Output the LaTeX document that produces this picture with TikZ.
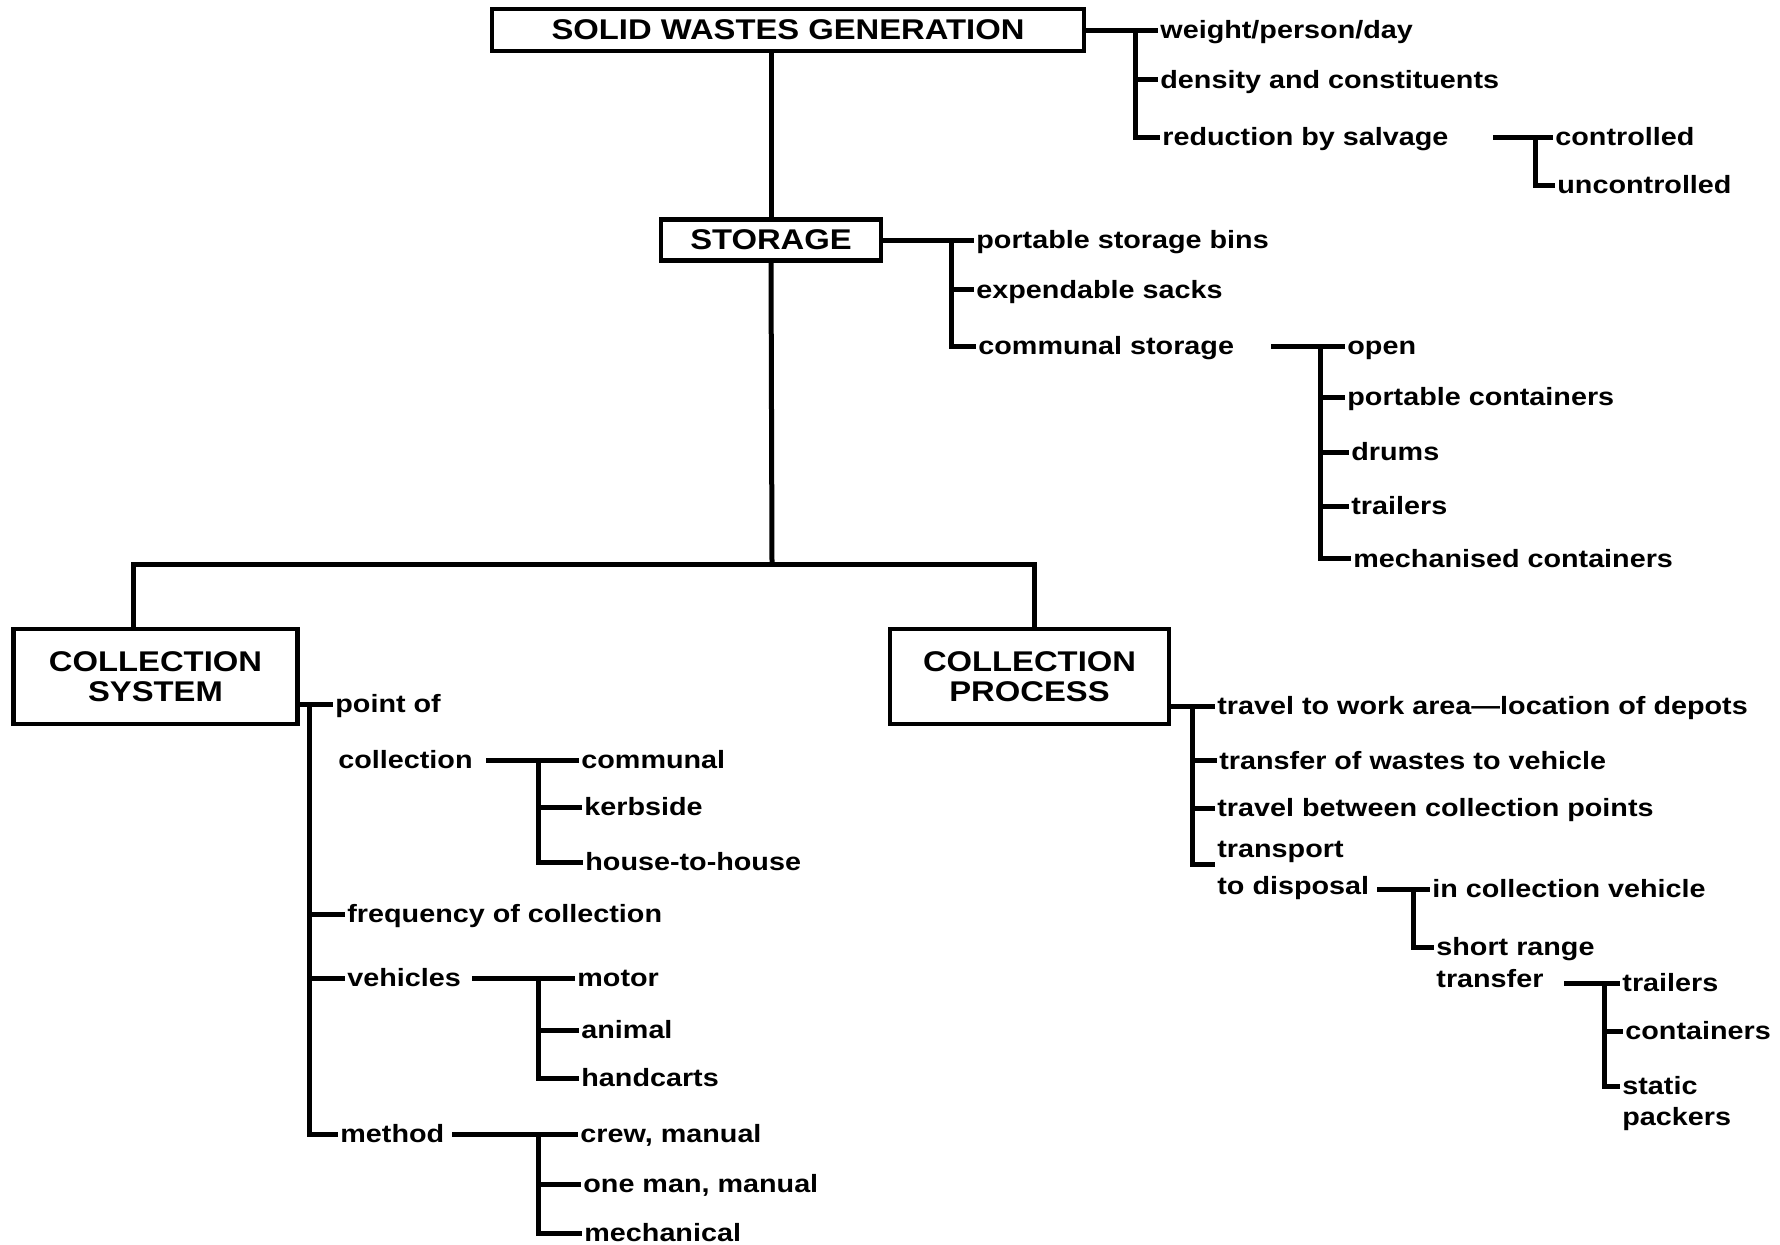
\documentclass[tikz,border=0pt]{standalone}
\usepackage{fontspec}
\setmainfont{Liberation Sans}[FakeStretch=1.15]
\begin{document}
\begin{tikzpicture}[x=0.5pt,y=-0.5pt,
  lab/.style={font=\bfseries\fontsize{12.5}{14}\selectfont, anchor=west, inner sep=1pt, text height=10.8pt, text depth=2pt},
  hdr/.style={draw, line width=2.3pt, font=\bfseries\fontsize{14.25}{15}\selectfont, align=center, inner sep=0pt},
  conn/.style={line width=2.5pt, line cap=butt}]
\useasboundingbox (0,0) rectangle (1780,1244);
% boxes
\node[hdr, minimum width=296pt, minimum height=21pt] (gen) at (788,30) {SOLID WASTES GENERATION};
\node[hdr, minimum width=110pt, minimum height=20.5pt] (stor) at (771,240) {STORAGE};
\node[hdr, minimum width=142pt, minimum height=47.5pt] (csys) at (155.5,676.5) {COLLECTION\\SYSTEM};
\node[hdr, minimum width=139.5pt, minimum height=47.5pt] (cproc) at (1029.5,676.5) {COLLECTION\\PROCESS};
% trunk
\coordinate (barL) at (133,564);
\coordinate (barR) at (1034,564);
\coordinate (jn) at (772,564);
\draw[conn] (stor.north |- gen.south) -- (stor.north);
\draw[conn] (stor.south) -- (jn);
\draw[conn] (csys.north -| barL) -- (barL) -- (barR) -- (barR |- cproc.north);
% generation branch
\node[lab] (g1) at (1158,30) {weight/person/day};
\node[lab] (g2) at (1158,79.5) {density and constituents};
\node[lab] (g3) at (1160,137) {reduction by salvage};
\node[lab] (g4) at (1553,137) {controlled};
\node[lab] (g5) at (1555,185) {uncontrolled};
\coordinate (gsp) at (1135,30);
\draw[conn] (gen.east) -- (gsp) -- (g1.west);
\draw[conn] (gsp) -- (gsp |- g3.west) -- (g3.west);
\draw[conn] (gsp |- g2.west) -- (g2.west);
\coordinate (g3d) at (1493,137);
\coordinate (gsp2) at (1535,137);
\draw[conn] (g3d) -- (gsp2) -- (g4.west);
\draw[conn] (gsp2) -- (gsp2 |- g5.west) -- (g5.west);
% storage branch
\node[lab] (s1) at (974,240) {portable storage bins};
\node[lab] (s2) at (974,289.5) {expendable sacks};
\node[lab] (s3) at (976,346) {communal storage};
\node[lab] (s4) at (1345,346) {open};
\node[lab] (s5) at (1345,397) {portable containers};
\node[lab] (s6) at (1349,452) {drums};
\node[lab] (s7) at (1349,506) {trailers};
\node[lab] (s8) at (1351,558.5) {mechanised containers};
\coordinate (ssp) at (951,240);
\draw[conn] (stor.east) -- (ssp) -- (s1.west);
\draw[conn] (ssp) -- (ssp |- s3.west) -- (s3.west);
\draw[conn] (ssp |- s2.west) -- (s2.west);
\coordinate (s3d) at (1271,346);
\coordinate (ssp2) at (1320,346);
\draw[conn] (s3d) -- (ssp2) -- (s4.west);
\draw[conn] (ssp2) -- (ssp2 |- s8.west) -- (s8.west);
\foreach \n in {s5,s6,s7} \draw[conn] (ssp2 |- \n.west) -- (\n.west);
% collection system branch
\node[lab] (c1) at (333,704) {point of};
\node[lab] (c2) at (336,760) {collection};
\node[lab] (c3) at (345,914) {frequency of collection};
\node[lab] (c4) at (345,978) {vehicles};
\node[lab] (c5) at (338,1134) {method};
\coordinate (csp) at (309,704);
\draw[conn] (csys.east |- csp) -- (csp) -- (c1.west);
\draw[conn] (csp) -- (csp |- c5.west) -- (c5.west);
\foreach \n in {c3,c4} \draw[conn] (csp |- \n.west) -- (\n.west);
\node[lab] (c6) at (579,760) {communal};
\node[lab] (c7) at (582,807) {kerbside};
\node[lab] (c8) at (583,862) {house-to-house};
\coordinate (c2d) at (486,760);
\coordinate (csp2) at (538,760);
\draw[conn] (c2d) -- (csp2) -- (c6.west);
\draw[conn] (csp2) -- (csp2 |- c8.west) -- (c8.west);
\draw[conn] (csp2 |- c7.west) -- (c7.west);
\node[lab] (c9) at (575,978) {motor};
\node[lab] (c10) at (579,1030) {animal};
\node[lab] (c11) at (579,1078) {handcarts};
\coordinate (c4d) at (472,978);
\coordinate (csp3) at (538,978);
\draw[conn] (c4d) -- (csp3) -- (c9.west);
\draw[conn] (csp3) -- (csp3 |- c11.west) -- (c11.west);
\draw[conn] (csp3 |- c10.west) -- (c10.west);
\node[lab] (c12) at (578,1134) {crew, manual};
\node[lab] (c13) at (581,1184) {one man, manual};
\node[lab] (c14) at (582,1233) {mechanical};
\coordinate (c5d) at (452,1134);
\coordinate (csp4) at (538,1134);
\draw[conn] (c5d) -- (csp4) -- (c12.west);
\draw[conn] (csp4) -- (csp4 |- c14.west) -- (c14.west);
\draw[conn] (csp4 |- c13.west) -- (c13.west);
% collection process branch
\node[lab] (p1) at (1215,706) {travel to work area—location of depots};
\node[lab] (p2) at (1217,760.5) {transfer of wastes to vehicle};
\node[lab] (p3) at (1215,808) {travel between collection points};
\node[lab] (p4) at (1215,849) {transport};
\node[lab] (p5) at (1215,886) {to disposal};
\coordinate (psp) at (1192,706);
\draw[conn] (cproc.east |- psp) -- (psp) -- (p1.west);
\draw[conn] (psp) -- (psp |- p4.south west) -- (p4.south west);
\foreach \n in {p2,p3} \draw[conn] (psp |- \n.west) -- (\n.west);
\node[lab] (p6) at (1430,889) {in collection vehicle};
\node[lab] (p7) at (1434,947) {short range};
\node[lab] (p8) at (1434,979) {transfer};
\coordinate (p5d) at (1377,889);
\coordinate (psp2) at (1413,889);
\draw[conn] (p5d) -- (psp2) -- (p6.west);
\draw[conn] (psp2) -- (psp2 |- p7.west) -- (p7.west);
\node[lab] (p9) at (1620,983) {trailers};
\node[lab] (p10) at (1623,1031) {containers};
\node[lab] (p11) at (1620,1086) {static};
\node[lab] (p12) at (1620,1117) {packers};
\coordinate (p8d) at (1564,983);
\coordinate (psp3) at (1604,983);
\draw[conn] (p8d) -- (psp3) -- (p9.west);
\draw[conn] (psp3) -- (psp3 |- p11.west) -- (p11.west);
\draw[conn] (psp3 |- p10.west) -- (p10.west);
\end{tikzpicture}
\end{document}
